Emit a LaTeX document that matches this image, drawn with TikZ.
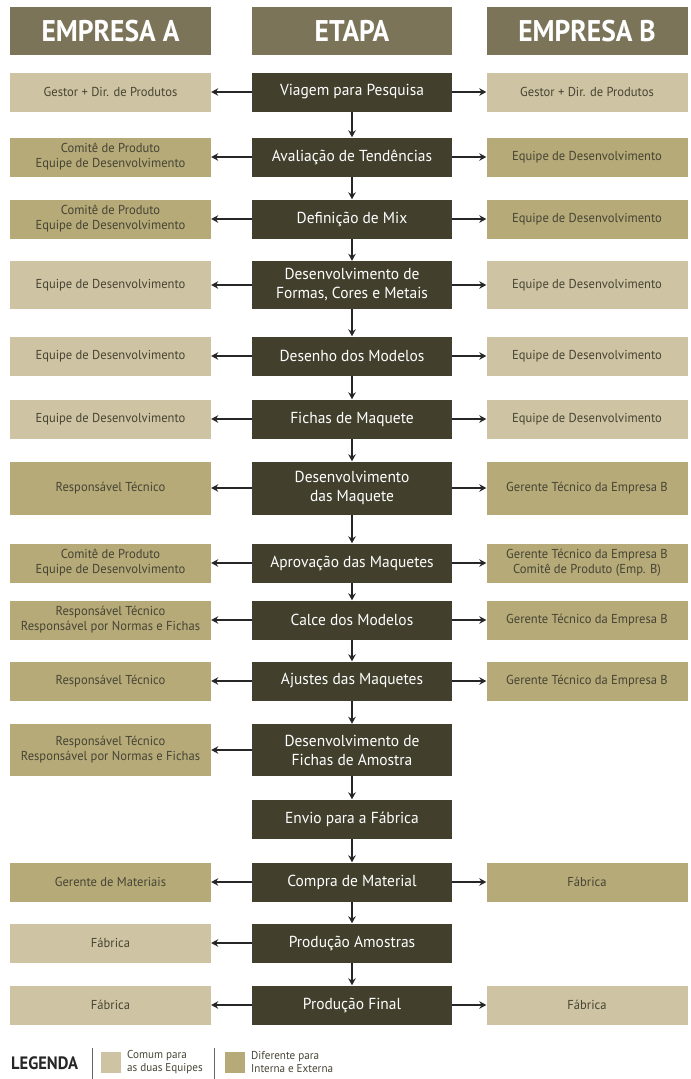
\documentclass[tikz,border=0pt]{standalone}
\usepackage{fontspec}
\setmainfont{PT Sans}
\newfontfamily\hdrfont[FakeStretch=0.92]{PT Sans}
\newfontfamily\txtfont[FakeStretch=0.97]{PT Sans}
\usetikzlibrary{arrows.meta}
\definecolor{hdrcol}{RGB}{123,116,89}
\definecolor{etcol}{RGB}{66,64,45}
\definecolor{comum}{RGB}{206,195,162}
\definecolor{difer}{RGB}{182,170,120}
\definecolor{txtcol}{RGB}{70,68,52}
\tikzset{
  hdr/.style={fill=hdrcol,text=white,minimum width=201bp,minimum height=48bp,inner sep=0pt,font=\hdrfont\fontsize{30}{30}\selectfont\bfseries},
  etapa/.style={fill=etcol,text=white,minimum width=200bp,minimum height=#1,inner sep=0pt,align=center,font=\txtfont\fontsize{16}{19}\selectfont},
  etapa/.default=39bp,
  sidea/.style={fill=comum,text=txtcol,minimum width=201bp,minimum height=#1,inner sep=0pt,align=center,font=\txtfont\fontsize{13}{15}\selectfont},
  sidea/.default=39bp,
  sideb/.style={fill=difer,text=txtcol,minimum width=201bp,minimum height=#1,inner sep=0pt,align=center,font=\txtfont\fontsize{13}{15}\selectfont},
  sideb/.default=39bp,
  conn/.style={-{Stealth[length=7bp,width=7.5bp]},line width=2bp,black!85},
}
\begin{document}
\begin{tikzpicture}[x=1bp,y=-1bp]
\useasboundingbox (0,0) rectangle (691,1079);
% headers
\node[hdr] (hA) at (110.5,31) {EMPRESA A};
\node[hdr,minimum width=200bp] (hE) at (352,31) {ETAPA};
\node[hdr] (hB) at (587,31) {EMPRESA B};
% center column
\node[etapa] (e1) at (352,92) {Viagem para Pesquisa};
\node[etapa] (e2) at (352,157) {Avaliação de Tendências};
\node[etapa] (e3) at (352,219) {Definição de Mix};
\node[etapa=48bp] (e4) at (352,285) {Desenvolvimento de\\Formas, Cores e Metais};
\node[etapa] (e5) at (352,356) {Desenho dos Modelos};
\node[etapa] (e6) at (352,419) {Fichas de Maquete};
\node[etapa=53bp] (e7) at (352,488) {Desenvolvimento\\das Maquete};
\node[etapa] (e8) at (352,563) {Aprovação das Maquetes};
\node[etapa] (e9) at (352,620) {Calce dos Modelos};
\node[etapa] (e10) at (352,681) {Ajustes das Maquetes};
\node[etapa=52bp] (e11) at (352,750) {Desenvolvimento de\\Fichas de Amostra};
\node[etapa] (e12) at (352,819) {Envio para a Fábrica};
\node[etapa] (e13) at (352,882) {Compra de Material};
\node[etapa] (e14) at (352,943) {Produção Amostras};
\node[etapa] (e15) at (352,1005) {Produção Final};
% left column
\node[sidea] (a1) at (110.5,92) {Gestor + Dir. de Produtos};
\node[sideb] (a2) at (110.5,157) {Comitê de Produto\\Equipe de Desenvolvimento};
\node[sideb] (a3) at (110.5,219) {Comitê de Produto\\Equipe de Desenvolvimento};
\node[sidea=48bp] (a4) at (110.5,285) {Equipe de Desenvolvimento};
\node[sidea] (a5) at (110.5,356) {Equipe de Desenvolvimento};
\node[sidea] (a6) at (110.5,419) {Equipe de Desenvolvimento};
\node[sideb=53bp] (a7) at (110.5,488) {Responsável Técnico};
\node[sideb] (a8) at (110.5,563) {Comitê de Produto\\Equipe de Desenvolvimento};
\node[sideb] (a9) at (110.5,620) {Responsável Técnico\\Responsável por Normas e Fichas};
\node[sideb] (a10) at (110.5,681) {Responsável Técnico};
\node[sideb=52bp] (a11) at (110.5,750) {Responsável Técnico\\Responsável por Normas e Fichas};
\node[sideb] (a13) at (110.5,882) {Gerente de Materiais};
\node[sidea] (a14) at (110.5,943) {Fábrica};
\node[sidea] (a15) at (110.5,1005) {Fábrica};
% right column
\node[sidea] (b1) at (587,92) {Gestor + Dir. de Produtos};
\node[sideb] (b2) at (587,157) {Equipe de Desenvolvimento};
\node[sideb] (b3) at (587,219) {Equipe de Desenvolvimento};
\node[sidea=48bp] (b4) at (587,285) {Equipe de Desenvolvimento};
\node[sidea] (b5) at (587,356) {Equipe de Desenvolvimento};
\node[sidea] (b6) at (587,419) {Equipe de Desenvolvimento};
\node[sideb=53bp] (b7) at (587,488) {Gerente Técnico da Empresa B};
\node[sideb] (b8) at (587,563) {Gerente Técnico da Empresa B\\Comitê de Produto (Emp. B)};
\node[sideb] (b9) at (587,620) {Gerente Técnico da Empresa B};
\node[sideb] (b10) at (587,681) {Gerente Técnico da Empresa B};
\node[sideb] (b13) at (587,882) {Fábrica};
\node[sidea] (b15) at (587,1005) {Fábrica};
% vertical connectors
\foreach \i [evaluate=\i as \j using int(\i+1)] in {1,...,14}
  \draw[conn] (e\i.south) -- (e\j.north);
% horizontal connectors
\foreach \i in {1,...,11,13,14,15}
  \draw[conn] (e\i.west) -- (a\i.east);
\foreach \i in {1,...,10,13,15}
  \draw[conn] (e\i.east) -- (b\i.west);
% legend
\node[anchor=west,inner sep=0pt,font=\hdrfont\fontsize{18}{18}\selectfont\bfseries,text=black!85] (leg) at (11,1063) {LEGENDA};
\coordinate (s1t) at (92,1048);
\coordinate (s1b) at (92,1079);
\draw[line width=1bp,black!60] (s1t) -- (s1b);
\node[fill=comum,minimum width=20bp,minimum height=21bp,inner sep=0pt] (lc) at (111,1062) {};
\node[anchor=west,inner sep=0pt,align=left,font=\txtfont\fontsize{11.5}{12.5}\selectfont,text=txtcol] (lct) at (127,1062) {Comum para\\as duas Equipes};
\coordinate (s2t) at (214,1048);
\coordinate (s2b) at (214,1079);
\draw[line width=1bp,black!60] (s2t) -- (s2b);
\node[fill=difer,minimum width=20bp,minimum height=21bp,inner sep=0pt] (ld) at (235,1062) {};
\node[anchor=west,inner sep=0pt,align=left,font=\txtfont\fontsize{11.5}{12.5}\selectfont,text=txtcol] (ldt) at (251,1062) {Diferente para\\Interna e Externa};
\end{tikzpicture}
\end{document}
